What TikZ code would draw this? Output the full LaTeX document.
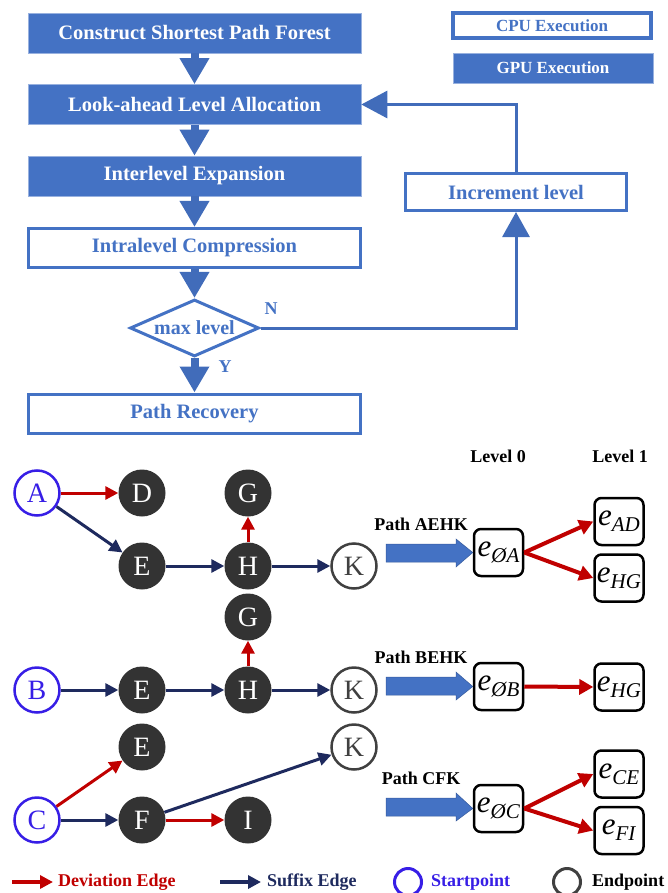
\documentclass[tikz,border=0pt]{standalone}
\usepackage{fontspec}
\setmainfont{Liberation Serif}
\usepackage{tikz}
\usetikzlibrary{shapes.geometric, arrows.meta}

\definecolor{flowblue}{RGB}{68,114,196}
\definecolor{devred}{RGB}{192,0,0}
\definecolor{sufnavy}{RGB}{30,42,94}
\definecolor{startblue}{RGB}{55,30,230}
\definecolor{nodegray}{RGB}{51,51,51}
\definecolor{endgray}{RGB}{64,64,64}

\newcommand{\eedge}[1]{\textit{e}\raisebox{-6pt}{\fontsize{21}{21}\selectfont\textit{#1}}}

\begin{document}
\begin{tikzpicture}[x=1pt,y=-1pt,
  gpubox/.style={rectangle,fill=flowblue,draw=flowblue!55!white,line width=0.6pt,text=white,inner sep=0pt,
    minimum width=333pt,minimum height=40pt,font=\bfseries\fontsize{20.5}{24}\selectfont},
  cpubox/.style={rectangle,fill=white,draw=flowblue,line width=3pt,text=flowblue,inner sep=0pt,
    minimum width=332pt,minimum height=39pt,font=\bfseries\fontsize{20.5}{24}\selectfont},
  downarrow/.style={flowblue!95!black,line width=8pt,-{Triangle[length=26pt,width=28pt]}},
  feed/.style={flowblue!95!black,line width=3pt},
  startnode/.style={circle,draw=startblue,line width=2.5pt,fill=white,text=startblue,minimum size=45pt,
    inner sep=0pt,font=\fontsize{28}{28}\selectfont},
  innode/.style={circle,fill=nodegray,text=white,minimum size=47pt,inner sep=0pt,font=\fontsize{28}{28}\selectfont},
  endnode/.style={circle,draw=endgray,line width=2.5pt,fill=white,text=endgray,minimum size=45pt,
    inner sep=0pt,font=\fontsize{28}{28}\selectfont},
  dev/.style={devred,line width=3pt,-{Triangle[length=13pt,width=13pt]}},
  suf/.style={sufnavy,line width=3pt,-{Triangle[length=13pt,width=13pt]}},
  ebox/.style={rectangle,rounded corners=7pt,draw=black,line width=2.5pt,fill=white,inner sep=0pt,
    minimum width=49pt,minimum height=47pt,font=\fontsize{31}{31}\selectfont},
  bigarrow/.style={fill=flowblue,draw=flowblue!80!black,line width=0.5pt},
  lbl/.style={font=\bfseries\fontsize{18}{20}\selectfont}]
\useasboundingbox (0,0) rectangle (667,893);

% flow chart
\node[gpubox] (cons) at (194.5,33) {Construct Shortest Path Forest};
\node[gpubox] (look) at (194.5,104.5) {Look-ahead Level Allocation};
\node[gpubox] (inter) at (194.5,176) {Interlevel Expansion};
\node[cpubox] (intra) at (194.5,248) {Intralevel Compression};
\node[diamond,draw=flowblue,line width=3pt,fill=white,text=flowblue,inner sep=0pt,aspect=2.26,
  minimum width=129pt,minimum height=57pt,font=\bfseries\fontsize{20}{24}\selectfont] (maxlvl) at (194.5,328) {max level};
\node[cpubox] (recov) at (194.5,413.5) {Path Recovery};
\node[cpubox,minimum width=221pt,minimum height=37pt] (incr) at (516,192) {Increment level};

\node[cpubox,line width=3.5pt,minimum width=198pt,minimum height=25pt,font=\bfseries\fontsize{17}{20}\selectfont] (cpuleg) at (552,25.5) {CPU Execution};
\node[gpubox,minimum width=200pt,minimum height=30pt,font=\bfseries\fontsize{17}{20}\selectfont] (gpuleg) at (553,68) {GPU Execution};

\foreach \a/\b in {cons/look,look/inter,inter/intra,intra/maxlvl,maxlvl/recov}
  \draw[downarrow] (\a) -- (\b);

\draw[feed,-{Triangle[length=25pt,width=27pt]}] (maxlvl.east) -| (incr.south);
\draw[feed,-{Triangle[length=26pt,width=27pt]}] (incr.north) |- (look.east);
\node[lbl,text=flowblue] (nlbl) at (271,309) {N};
\node[lbl,text=flowblue] (ylbl) at (225,367) {Y};

% shortest path forest
\node[startnode] (A) at (37,493) {A};
\node[innode] (D) at (142,493) {D};
\node[innode] (G1) at (248,493) {G};
\node[innode] (E1) at (142,566) {E};
\node[innode] (H1) at (248,566) {H};
\node[endnode] (K1) at (354,566) {K};
\node[innode] (G2) at (248,617) {G};
\node[startnode] (B) at (37,690) {B};
\node[innode] (E2) at (142,690) {E};
\node[innode] (H2) at (248,690) {H};
\node[endnode] (K2) at (354,690) {K};
\node[innode] (E3) at (142,747) {E};
\node[endnode] (K3) at (354,747) {K};
\node[startnode] (C) at (37,820) {C};
\node[innode] (F) at (142,820) {F};
\node[innode] (I) at (248,820) {I};

\draw[dev] (A) -- (D);
\draw[suf] (A) -- (E1);
\draw[suf] (E1) -- (H1);
\draw[suf] (H1) -- (K1);
\draw[dev] (H1) -- (G1);
\draw[suf] (B) -- (E2);
\draw[suf] (E2) -- (H2);
\draw[suf] (H2) -- (K2);
\draw[dev] (H2) -- (G2);
\draw[dev] (C) -- (E3);
\draw[suf] (C) -- (F);
\draw[dev] (F) -- (I);
\draw[suf] (F) -- (K3);

% levels
\node[lbl] (lvl0) at (498,456) {Level 0};
\node[lbl] (lvl1) at (620,456) {Level 1};

\node[ebox] (e0a) at (498.5,552.5) {\eedge{ØA}};
\node[ebox] (ead) at (619,521.5) {\eedge{AD}};
\node[ebox] (ehg1) at (619,578) {\eedge{HG}};
\node[ebox] (e0b) at (498.5,686.5) {\eedge{ØB}};
\node[ebox] (ehg2) at (619,687) {\eedge{HG}};
\node[ebox] (e0c) at (498.5,808.5) {\eedge{ØC}};
\node[ebox] (ece) at (619,774) {\eedge{CE}};
\node[ebox] (efi) at (619,830.5) {\eedge{FI}};

\node[lbl] (paehk) at (421,524) {Path AEHK};
\node[lbl] (pbehk) at (421,657) {Path BEHK};
\node[lbl] (pcfk) at (421,778) {Path CFK};

\foreach \y/\b in {553/e0a,686/e0b,807/e0c}
  \draw[bigarrow] (386,\y-9) -- (456,\y-9) -- (456,\y-14) -- (\b.west) -- (456,\y+14) -- (456,\y+9) -- (386,\y+9) -- cycle;

\draw[dev,line width=4pt,-{Triangle[length=14pt,width=15pt]}] (e0a.east) -- (ead.west);
\draw[dev,line width=4pt,-{Triangle[length=14pt,width=15pt]}] (e0a.east) -- (ehg1.west);
\draw[dev,line width=4pt,-{Triangle[length=14pt,width=15pt]}] (e0b.east) -- (ehg2.west);
\draw[dev,line width=4pt,-{Triangle[length=14pt,width=15pt]}] (e0c.east) -- (ece.west);
\draw[dev,line width=4pt,-{Triangle[length=14pt,width=15pt]}] (e0c.east) -- (efi.west);

% legend
\coordinate (dv1) at (12,882);
\coordinate (dv2) at (53,882);
\coordinate (sf1) at (220,882);
\coordinate (sf2) at (261,882);
\draw[dev,line width=4pt] (dv1) -- (dv2);
\draw[suf,line width=4pt] (sf1) -- (sf2);
\node[lbl,text=devred,anchor=west,inner sep=0pt] (devtxt) at (58,882) {Deviation Edge};
\node[lbl,text=sufnavy,anchor=west,inner sep=0pt] (suftxt) at (267,882) {Suffix Edge};
\node[circle,draw=startblue,line width=3pt,minimum size=27pt,inner sep=0pt] (stleg) at (408,882) {};
\node[lbl,text=startblue,anchor=west,inner sep=0pt] (sttxt) at (431,882) {Startpoint};
\node[circle,draw=endgray,line width=3pt,minimum size=27pt,inner sep=0pt] (enleg) at (567,882) {};
\node[lbl,anchor=west,inner sep=0pt] (entxt) at (592,882) {Endpoint};
\end{tikzpicture}
\end{document}
